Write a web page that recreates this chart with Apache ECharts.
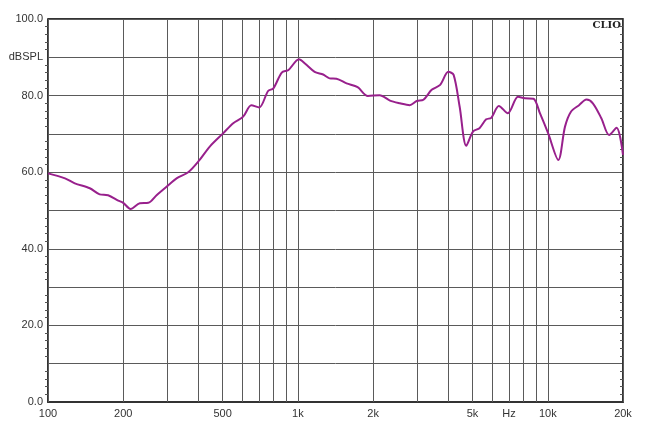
<!DOCTYPE html>
<html><head><meta charset="utf-8">
<script src="https://cdn.jsdelivr.net/npm/echarts@6/dist/echarts.min.js"></script>
<style>html,body{margin:0;padding:0;background:#fff}#c{width:649px;height:429px}</style>
</head><body><div id="c"></div>
<script>
const freqs = [100,117,128,147,161,174,191,200,214,233,252,272,298,327,364,402,444,503,551,604,651,700,760,798,862,917,1010,1067,1167,1262,1340,1427,1566,1734,1905,2124,2336,2560,2800,2990,3180,3430,3710,4000,4200,4440,4720,5020,5330,5670,5940,6370,6920,7600,8100,8760,9300,10030,11020,11720,12380,13340,14280,15150,16380,17600,18850,20000];
const spl = [59.7,58.4,57.1,55.8,54.2,54.0,52.6,52.0,50.4,51.9,52.0,54.0,56.2,58.4,60.0,63.0,66.7,70.2,72.8,74.5,77.5,76.9,81.2,81.9,86.0,86.7,89.5,88.4,86.2,85.5,84.5,84.4,83.2,82.2,79.9,80.1,78.7,78.0,77.5,78.6,78.9,81.5,82.8,86.2,85.4,77.1,66.9,70.6,71.5,73.8,74.2,77.3,75.4,79.7,79.3,79.2,75.4,70.2,63.2,71.9,75.8,77.5,79.0,78.0,74.1,69.7,71.6,64.5];
const gridFreqs = [100,200,300,400,500,600,700,800,900,1000,2000,3000,4000,5000,6000,7000,8000,9000,10000,20000];
const labelFreqs = [100,200,500,1000,2000,5000,7000,10000,20000];
const labelTexts = ['100','200','500','1k','2k','5k','Hz','10k','20k'];
const yLabels = {0:'0.0',20:'20.0',40:'40.0',60:'60.0',80:'80.0',90:'dBSPL',100:'100.0'};

const chart = echarts.init(document.getElementById('c'), null, {renderer:'canvas'});
const font = {fontFamily:'Liberation Sans, Arial, sans-serif', fontSize:11, color:'#333'};
chart.setOption({
  animation:false,
  grid:{left:48,right:26,top:19,bottom:27,containLabel:false},
  xAxis:{type:'log',logBase:10,min:100,max:20000,
    axisLine:{show:true,onZero:false,lineStyle:{color:'#333',width:2}},
    axisTick:{show:false,customValues:gridFreqs},
    splitLine:{show:false},
    axisLabel:Object.assign({customValues:labelFreqs,margin:6,
      formatter:v=>{const i=labelFreqs.findIndex(f=>Math.abs(f-v)<1);return i>=0?labelTexts[i]:'';}},font)
  },
  yAxis:[{type:'value',min:0,max:100,interval:10,
    axisLine:{show:true,lineStyle:{color:'#333',width:2}},
    axisTick:{show:false},
    minorTick:{show:true,splitNumber:5,length:3,lineStyle:{color:'#555'}},
    splitLine:{show:true,lineStyle:{color:'#5a5a5a',width:1}},
    axisLabel:Object.assign({margin:5,formatter:v=>yLabels[v]||''},font)
  },{type:'value',min:0,max:100,interval:10,position:'right',
    axisLine:{show:true,lineStyle:{color:'#333',width:2}},
    axisTick:{show:false},
    minorTick:{show:true,splitNumber:5,length:-3,lineStyle:{color:'#555'}},
    splitLine:{show:false},axisLabel:{show:false}
  }],
  graphic:[{type:'text',right:28,top:20,style:{text:'CLIO',font:'bold 10px "DejaVu Serif", serif',fill:'#222'}},
    {type:'rect',shape:{x:48,y:19,width:575,height:0},style:{stroke:'#333',lineWidth:2}}],
  series:[{type:'line',data:[],markLine:{silent:true,symbol:'none',label:{show:false},
      lineStyle:{color:'#5a5a5a',width:1,type:'solid'},
      data:gridFreqs.map(f=>({xAxis:f}))}},
    {type:'line',data:freqs.map((f,i)=>[f,spl[i]]),smooth:0.3,showSymbol:false,
      lineStyle:{color:'#98208c',width:2},z:5}]
});
</script></body></html>
